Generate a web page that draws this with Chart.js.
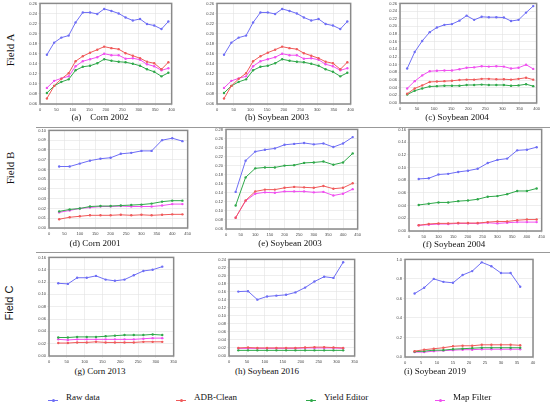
<!DOCTYPE html>
<html>
<head>
<meta charset="utf-8">
<script src="https://cdn.jsdelivr.net/npm/chart.js@4.4.1/dist/chart.umd.min.js"></script>
<style>
  body { margin: 0; background: #fff; }
  #page { position: relative; width: 550px; height: 403px; overflow: hidden; font-family: "Liberation Serif", "DejaVu Serif", serif; color: #111; }
  .panel { position: absolute; }
  .cap { position: absolute; font-size: 9px; white-space: pre; transform: translateX(-50%); }
  .field { position: absolute; font-size: 11px; white-space: nowrap; transform: translate(-50%, -50%) rotate(-90deg); }
  .rule { position: absolute; left: 36px; right: 0; height: 1px; background: #999; }
  .leg { position: absolute; top: 392px; font-size: 9px; white-space: nowrap; }
  .leg i { display: inline-block; position: relative; width: 10px; height: 1px; margin-right: 8px; vertical-align: middle; top: 3px; }
  .leg i::after { content: ""; position: absolute; left: 3.5px; top: -1.5px; width: 3px; height: 3px; border-radius: 50%; background: inherit; }
</style>
</head>
<body>
<div id="page">
  <div class="field" style="left:10px; top:50px;">Field A</div>
  <div class="field" style="left:10px; top:168px;">Field B</div>
  <div class="field" style="left:9px; top:303px; font-family:'Liberation Sans', sans-serif;">Field C</div>
  <div class="rule" style="top:127px;"></div>
  <div class="rule" style="top:252px;"></div>
</div>
<script>
// series colours
const colRaw = '#6e6ef5';
const colAdb = '#f05a5a';
const colYield = '#2fa84a';
const colMap = '#f050f0';

// Field A x positions (distance)
const xRowA = [21, 43, 65, 87, 108, 130, 152, 174, 195, 217, 239, 260, 282, 304, 325, 347, 369, 390];
// (a) Corn 2002 / (b) Soybean 2003
const aRaw = [0.158, 0.182, 0.192, 0.196, 0.222, 0.242, 0.242, 0.239, 0.249, 0.245, 0.240, 0.232, 0.226, 0.229, 0.219, 0.216, 0.209, 0.224];
const aAdb = [0.071, 0.096, 0.110, 0.121, 0.145, 0.155, 0.162, 0.168, 0.174, 0.171, 0.169, 0.161, 0.156, 0.151, 0.144, 0.141, 0.129, 0.143];
const aYield = [0.082, 0.096, 0.104, 0.109, 0.127, 0.134, 0.136, 0.141, 0.149, 0.146, 0.144, 0.143, 0.140, 0.136, 0.129, 0.124, 0.115, 0.122];
const aMap = [0.092, 0.106, 0.111, 0.115, 0.135, 0.145, 0.149, 0.153, 0.160, 0.157, 0.157, 0.150, 0.151, 0.148, 0.139, 0.135, 0.127, 0.131];
// (c) Soybean 2004
const cRaw = [0.090, 0.133, 0.162, 0.185, 0.197, 0.204, 0.206, 0.215, 0.228, 0.217, 0.225, 0.224, 0.224, 0.223, 0.214, 0.217, 0.236, 0.253];
const cAdb = [0.024, 0.038, 0.046, 0.055, 0.056, 0.057, 0.058, 0.060, 0.061, 0.061, 0.063, 0.063, 0.062, 0.062, 0.061, 0.063, 0.066, 0.061];
const cYield = [0.022, 0.032, 0.038, 0.043, 0.044, 0.045, 0.045, 0.045, 0.047, 0.047, 0.048, 0.047, 0.047, 0.047, 0.045, 0.046, 0.049, 0.044];
const cMap = [0.038, 0.057, 0.072, 0.083, 0.084, 0.085, 0.085, 0.088, 0.092, 0.093, 0.096, 0.095, 0.096, 0.095, 0.090, 0.092, 0.100, 0.089];

// Field B x positions
const xRowB = [33, 67, 100, 133, 167, 200, 233, 267, 300, 333, 367, 400, 433];
// (d) Corn 2001
const dRaw = [0.063, 0.063, 0.066, 0.069, 0.071, 0.072, 0.076, 0.077, 0.079, 0.079, 0.090, 0.092, 0.089];
const dAdb = [0.009, 0.011, 0.012, 0.013, 0.013, 0.013, 0.0135, 0.013, 0.0135, 0.013, 0.0135, 0.014, 0.014];
const dYield = [0.017, 0.019, 0.020, 0.022, 0.0225, 0.0225, 0.023, 0.0235, 0.024, 0.025, 0.027, 0.028, 0.028];
const dMap = [0.016, 0.018, 0.020, 0.021, 0.022, 0.022, 0.0225, 0.022, 0.022, 0.022, 0.023, 0.0245, 0.0245];
// (e) Soybean 2003
const eRaw = [0.142, 0.211, 0.231, 0.235, 0.238, 0.246, 0.248, 0.250, 0.247, 0.249, 0.241, 0.249, 0.263];
const eAdb = [0.085, 0.123, 0.143, 0.147, 0.147, 0.151, 0.153, 0.152, 0.151, 0.155, 0.149, 0.151, 0.161];
const eYield = [0.112, 0.174, 0.194, 0.196, 0.196, 0.200, 0.201, 0.206, 0.207, 0.209, 0.202, 0.207, 0.227];
const eMap = [0.085, 0.122, 0.138, 0.141, 0.140, 0.143, 0.143, 0.143, 0.141, 0.142, 0.134, 0.138, 0.148];
// (f) Soybean 2004
const fRaw = [0.082, 0.083, 0.089, 0.090, 0.093, 0.095, 0.098, 0.107, 0.112, 0.114, 0.127, 0.128, 0.132];
const fAdb = [0.009, 0.011, 0.012, 0.012, 0.0125, 0.0125, 0.0125, 0.014, 0.015, 0.015, 0.017, 0.018, 0.018];
const fYield = [0.041, 0.043, 0.045, 0.045, 0.047, 0.048, 0.050, 0.054, 0.055, 0.058, 0.063, 0.063, 0.067];
const fMap = [0.009, 0.010, 0.011, 0.011, 0.012, 0.012, 0.012, 0.013, 0.012, 0.013, 0.014, 0.014, 0.014];

// Field C x positions
const xRowC = [26, 53, 79, 106, 132, 159, 185, 212, 238, 265, 291, 318];
// (g) Corn 2013
const gRaw = [0.118, 0.117, 0.127, 0.127, 0.130, 0.124, 0.122, 0.124, 0.131, 0.138, 0.140, 0.145];
const gAdb = [0.021, 0.021, 0.022, 0.022, 0.023, 0.022, 0.022, 0.022, 0.022, 0.023, 0.023, 0.023];
const gYield = [0.030, 0.030, 0.031, 0.031, 0.031, 0.032, 0.033, 0.034, 0.034, 0.034, 0.035, 0.034];
const gMap = [0.027, 0.026, 0.027, 0.027, 0.027, 0.027, 0.027, 0.027, 0.027, 0.028, 0.029, 0.029];
// (h) Soybean 2016
const hRaw = [0.160, 0.161, 0.140, 0.148, 0.150, 0.152, 0.158, 0.170, 0.185, 0.197, 0.194, 0.233];
const hAdb = [0.020, 0.021, 0.020, 0.020, 0.020, 0.020, 0.020, 0.021, 0.022, 0.022, 0.021, 0.020];
const hYield = [0.014, 0.014, 0.014, 0.014, 0.014, 0.014, 0.014, 0.014, 0.014, 0.014, 0.014, 0.014];
const hMap = [0.019, 0.019, 0.019, 0.019, 0.019, 0.019, 0.019, 0.020, 0.020, 0.020, 0.020, 0.019];
// (i) Soybean 2019
const xI = [3, 6, 9, 12, 15, 18, 21, 24, 27, 30, 33, 36];
const iRaw = [0.65, 0.71, 0.80, 0.77, 0.76, 0.84, 0.88, 0.97, 0.93, 0.86, 0.86, 0.72];
const iAdb = [0.06, 0.075, 0.085, 0.095, 0.11, 0.115, 0.115, 0.125, 0.125, 0.125, 0.125, 0.12];
const iYield = [0.055, 0.06, 0.07, 0.07, 0.08, 0.085, 0.09, 0.095, 0.095, 0.095, 0.095, 0.095];
const iMap = [0.05, 0.05, 0.06, 0.065, 0.07, 0.075, 0.075, 0.08, 0.08, 0.08, 0.08, 0.08];

const seriesNames = ['Raw data', 'ADB-Clean', 'Yield Editor', 'Map Filter'];

// panel layout: box = plot area [left, top, width, height] on the page
const panels = [
    { x: xRowA, s: [aRaw, aAdb, aYield, aMap], y: [0.06, 0.26, 0.02], xs: [400, 50], dec: 2, box: [40, 3, 132, 101], cap: '(a)    Corn 2002', cx: 100, cy: 112 },
    { x: xRowA, s: [aRaw, aAdb, aYield, aMap], y: [0.06, 0.26, 0.02], xs: [400, 50], dec: 2, box: [217, 3, 134, 101], cap: '(b) Soybean 2003', cx: 277, cy: 112 },
    { x: xRowA, s: [cRaw, cAdb, cYield, cMap], y: [0, 0.26, 0.02], xs: [400, 50], dec: 2, box: [400, 3, 137, 100], cap: '(c) Soybean 2004', cx: 457, cy: 112 },
    { x: xRowB, s: [dRaw, dAdb, dYield, dMap], y: [0, 0.10, 0.01], xs: [450, 50], dec: 2, box: [49, 130, 139, 98], cap: '(d) Corn 2001', cx: 95, cy: 238 },
    { x: xRowB, s: [eRaw, eAdb, eYield, eMap], y: [0.06, 0.28, 0.02], xs: [450, 50], dec: 2, box: [226, 129, 132, 100], cap: '(e) Soybean 2003', cx: 290, cy: 238 },
    { x: xRowB, s: [fRaw, fAdb, fYield, fMap], y: [0, 0.16, 0.02], xs: [450, 50], dec: 2, box: [409, 129, 133, 102], cap: '(f) Soybean 2004', cx: 454, cy: 239 },
    { x: xRowC, s: [gRaw, gAdb, gYield, gMap], y: [0, 0.16, 0.02], xs: [350, 50], dec: 2, box: [49, 257, 125, 99], cap: '(g) Corn 2013', cx: 100, cy: 366 },
    { x: xRowC, s: [hRaw, hAdb, hYield, hMap], y: [0, 0.24, 0.02], xs: [350, 50], dec: 2, box: [229, 259, 126, 97], cap: '(h) Soybean 2016', cx: 267, cy: 366 },
    { x: xI, s: [iRaw, iAdb, iYield, iMap], y: [0, 1.0, 0.2], xs: [40, 5], dec: 1, box: [405, 259, 128, 98], cap: '(i) Soybean 2019', cx: 435, cy: 366 }
];

const colors = [colRaw, colAdb, colYield, colMap];
const tickFont = { size: 4, family: 'Liberation Sans' };

// grey frame round the plot area
const framePlugin = {
    id: 'frame',
    afterDraw(chart) {
        const a = chart.chartArea;
        const c = chart.ctx;
        c.save();
        c.strokeStyle = '#8a8a8a';
        c.lineWidth = 1.5;
        c.strokeRect(a.left, a.top, a.right - a.left, a.bottom - a.top);
        c.restore();
    }
};

const page = document.getElementById('page');

panels.forEach(function (p) {
    const yW = 14, xH = 9, padT = 3, padR = 4;
    const wrap = document.createElement('div');
    wrap.className = 'panel';
    wrap.style.left = (p.box[0] - yW) + 'px';
    wrap.style.top = (p.box[1] - padT) + 'px';
    wrap.style.width = (p.box[2] + yW + padR) + 'px';
    wrap.style.height = (p.box[3] + padT + xH) + 'px';
    const cv = document.createElement('canvas');
    wrap.appendChild(cv);
    page.appendChild(wrap);

    const cap = document.createElement('div');
    cap.className = 'cap';
    cap.style.left = p.cx + 'px';
    cap.style.top = p.cy + 'px';
    cap.textContent = p.cap;
    page.appendChild(cap);

    const datasets = p.s.map(function (vals, k) {
        return {
            label: seriesNames[k],
            data: vals.map(function (v, j) { return { x: p.x[j], y: v }; }),
            borderColor: colors[k],
            backgroundColor: colors[k],
            borderWidth: 1,
            pointRadius: 1.2,
            pointHoverRadius: 1.2,
            pointBorderWidth: 0,
            tension: 0
        };
    });

    new Chart(cv, {
        type: 'line',
        data: { datasets: datasets },
        options: {
            responsive: true,
            maintainAspectRatio: false,
            animation: false,
            layout: { padding: { top: padT, right: padR, left: 0, bottom: 0 } },
            plugins: { legend: { display: false }, tooltip: { enabled: false } },
            scales: {
                x: {
                    type: 'linear',
                    min: 0,
                    max: p.xs[0],
                    afterFit: function (scale) { scale.height = xH; },
                    ticks: { stepSize: p.xs[1], font: tickFont, color: '#444', padding: 1, maxRotation: 0, autoSkip: false },
                    grid: { color: '#e2e2e2', lineWidth: 0.6, tickLength: 2 },
                    border: { display: false }
                },
                y: {
                    min: p.y[0],
                    max: p.y[1],
                    afterFit: function (scale) { scale.width = yW; },
                    ticks: {
                        stepSize: p.y[2],
                        font: tickFont,
                        color: '#444',
                        padding: 1,
                        autoSkip: false,
                        callback: function (v) { return Number(v).toFixed(p.dec); }
                    },
                    grid: { color: '#e2e2e2', lineWidth: 0.6, tickLength: 2 },
                    border: { display: false }
                }
            }
        },
        plugins: [framePlugin]
    });
});

// legend row
const legendX = [48, 176, 306, 435];
seriesNames.forEach(function (name, k) {
    const d = document.createElement('div');
    d.className = 'leg';
    d.style.left = legendX[k] + 'px';
    const mark = document.createElement('i');
    mark.style.background = colors[k];
    d.appendChild(mark);
    d.appendChild(document.createTextNode(name));
    page.appendChild(d);
});
</script>
</body>
</html>
